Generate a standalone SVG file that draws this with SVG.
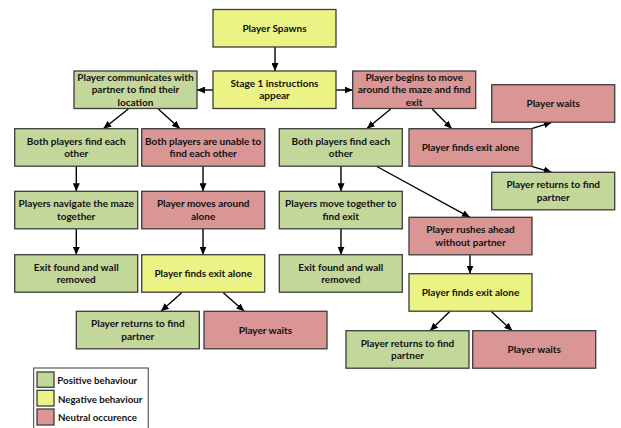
<svg xmlns="http://www.w3.org/2000/svg" width="621" height="428" viewBox="0 0 621 428">
<defs>
<style>
.g{fill:#c4d79b}.y{fill:#ecf385}.r{fill:#d99694}
.b{stroke:#3c3c3c;stroke-width:1.3}
text{font-family:Lato,"Liberation Sans",sans-serif;font-weight:bold;font-size:10px;fill:#111;text-anchor:middle}
.lg text{text-anchor:start;font-size:9.7px}
.c line{stroke:#000;stroke-width:1.4;marker-end:url(#ah)}
</style>
<marker id="ah" markerUnits="userSpaceOnUse" markerWidth="8" markerHeight="7" refX="8" refY="3.5" orient="auto"><path d="M0,0 L8,3.5 L0,7 z" fill="#000"/></marker>
</defs>
<rect width="621" height="428" fill="#fff"/>
<g class="c" id="connectors">
<line x1="275" y1="47" x2="275" y2="71"/>
<line x1="213" y1="90" x2="197" y2="90"/>
<line x1="336" y1="90" x2="352.7" y2="90"/>
<line x1="128.3" y1="109" x2="103.3" y2="128.7"/>
<line x1="158.3" y1="109" x2="180" y2="128.7"/>
<line x1="76.3" y1="166" x2="76.3" y2="191.3"/>
<line x1="203" y1="166" x2="203" y2="191.3"/>
<line x1="76.3" y1="229" x2="76.3" y2="254.7"/>
<line x1="203" y1="229" x2="203" y2="254.7"/>
<line x1="181.7" y1="292.7" x2="161" y2="311.3"/>
<line x1="223.3" y1="292.7" x2="244.3" y2="311.3"/>
<line x1="390.7" y1="109" x2="366.7" y2="128.7"/>
<line x1="432.3" y1="109" x2="451.7" y2="128.7"/>
<line x1="531.7" y1="128.7" x2="551.7" y2="122.3"/>
<line x1="531.7" y1="166.3" x2="551.7" y2="172.3"/>
<line x1="341" y1="166" x2="341" y2="191.3"/>
<line x1="376" y1="166" x2="470" y2="217.3"/>
<line x1="341" y1="229" x2="341" y2="254.7"/>
<line x1="470" y1="254.7" x2="470" y2="273.7"/>
<line x1="450" y1="311.3" x2="430" y2="330.7"/>
<line x1="491" y1="311.3" x2="512.3" y2="330.7"/>
</g>
<g id="n1" transform="translate(213,9.5)"><rect class="y b" width="123" height="37.5"/><text x="61.5" y="22.3">Player Spawns</text></g>
<g id="n2" transform="translate(213,71)"><rect class="y b" width="123" height="37.5"/><text x="61.5" y="16.1">Stage 1 instructions</text><text x="61.5" y="28.4">appear</text></g>
<g id="n3" transform="translate(74,71)"><rect class="g b" width="123" height="37.5"/><text x="61.5" y="10">Player communicates with</text><text x="61.5" y="22.3">partner to find their</text><text x="61.5" y="34.6">location</text></g>
<g id="n4" transform="translate(352.7,71)"><rect class="r b" width="123" height="37.5"/><text x="61.5" y="10">Player begins to move</text><text x="61.5" y="22.3">around the maze and find</text><text x="61.5" y="34.6">exit</text></g>
<g id="n5" transform="translate(14.7,128.7)"><rect class="g b" width="123" height="37.5"/><text x="61.5" y="16.1">Both players find each</text><text x="61.5" y="28.4">other</text></g>
<g id="n6" transform="translate(141.7,128.7)"><rect class="r b" width="123" height="37.5"/><text x="61.5" y="16.1">Both players are unable to</text><text x="61.5" y="28.4">find each other</text></g>
<g id="n7" transform="translate(14.7,191.3)"><rect class="g b" width="123" height="37.5"/><text x="61.5" y="16.1">Players navigate the maze</text><text x="61.5" y="28.4">together</text></g>
<g id="n8" transform="translate(141.7,191.3)"><rect class="r b" width="123" height="37.5"/><text x="61.5" y="16.1">Player moves around</text><text x="61.5" y="28.4">alone</text></g>
<g id="n9" transform="translate(14.7,254.7)"><rect class="g b" width="123" height="37.5"/><text x="61.5" y="16.1">Exit found and wall</text><text x="61.5" y="28.4">removed</text></g>
<g id="n10" transform="translate(141.7,254.7)"><rect class="y b" width="123" height="37.5"/><text x="61.5" y="22.3">Player finds exit alone</text></g>
<g id="n11" transform="translate(76.3,311.3)"><rect class="g b" width="123" height="37.5"/><text x="61.5" y="16.1">Player returns to find</text><text x="61.5" y="28.4">partner</text></g>
<g id="n12" transform="translate(204,311.3)"><rect class="r b" width="123" height="37.5"/><text x="61.5" y="22.3">Player waits</text></g>
<g id="n13" transform="translate(491.7,84.7)"><rect class="r b" width="123" height="37.5"/><text x="61.5" y="22.3">Player waits</text></g>
<g id="n14" transform="translate(409,128.7)"><rect class="r b" width="123" height="37.5"/><text x="61.5" y="22.3">Player finds exit alone</text></g>
<g id="n15" transform="translate(491.7,172.3)"><rect class="g b" width="123" height="37.5"/><text x="61.5" y="16.1">Player returns to find</text><text x="61.5" y="28.4">partner</text></g>
<g id="n16" transform="translate(279.3,128.7)"><rect class="g b" width="123" height="37.5"/><text x="61.5" y="16.1">Both players find each</text><text x="61.5" y="28.4">other</text></g>
<g id="n17" transform="translate(279.3,191.3)"><rect class="g b" width="123" height="37.5"/><text x="61.5" y="16.1">Players move together to</text><text x="61.5" y="28.4">find exit</text></g>
<g id="n18" transform="translate(279.3,254.7)"><rect class="g b" width="123" height="37.5"/><text x="61.5" y="16.1">Exit found and wall</text><text x="61.5" y="28.4">removed</text></g>
<g id="n19" transform="translate(409,217.3)"><rect class="r b" width="123" height="37.5"/><text x="61.5" y="16.1">Player rushes ahead</text><text x="61.5" y="28.4">without partner</text></g>
<g id="n20" transform="translate(409,273.7)"><rect class="y b" width="123" height="37.5"/><text x="61.5" y="22.3">Player finds exit alone</text></g>
<g id="n21" transform="translate(346,330.7)"><rect class="g b" width="123" height="37.5"/><text x="61.5" y="16.1">Player returns to find</text><text x="61.5" y="28.4">partner</text></g>
<g id="n22" transform="translate(472.7,330.7)"><rect class="r b" width="123" height="37.5"/><text x="61.5" y="22.3">Player waits</text></g>
<g id="legend" class="lg">
<rect x="33.7" y="368" width="114.5" height="70" fill="#fff" stroke="#3c3c3c" stroke-width="1"/>
<rect class="g b" x="37" y="372" width="17" height="15.3"/>
<rect class="y b" x="37" y="390.3" width="17" height="15.7"/>
<rect class="r b" x="37" y="409" width="17" height="16"/>
<text x="57.3" y="384">Positive behaviour</text>
<text x="58" y="403">Negative behaviour</text>
<text x="58" y="421">Neutral occurence</text>
</g>
</svg>
